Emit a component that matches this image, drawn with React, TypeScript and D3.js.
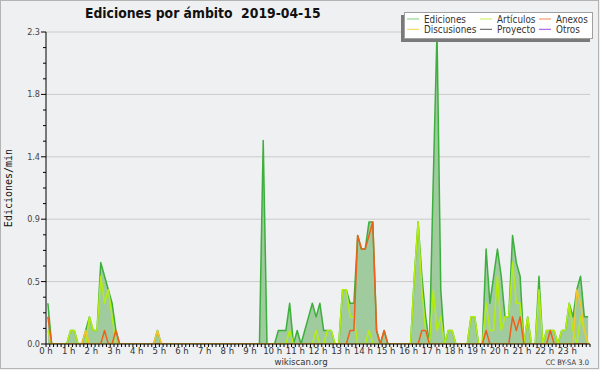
import React from 'react';
import * as d3 from 'd3';

// values are edits per minute, one per 10 minute slot (0:00 .. 23:50)
const ediciones = [
  0.3, 0, 0, 0, 0, 0, // 0 h
  0.1, 0.1, 0, 0, 0.1, 0.2, // 1 h
  0.1, 0.1, 0.6, 0.5, 0.4, 0.3, // 2 h
  0.1, 0, 0, 0, 0, 0, // 3 h
  0, 0, 0, 0, 0, 0.1, // 4 h
  0, 0, 0, 0, 0, 0, // 5 h
  0, 0, 0, 0, 0, 0, // 6 h
  0, 0, 0, 0, 0, 0, // 7 h
  0, 0, 0, 0, 0, 0, // 8 h
  0, 0, 0, 1.5, 0, 0, // 9 h
  0, 0.1, 0.1, 0.1, 0.3, 0, // 10 h
  0.1, 0, 0.1, 0.2, 0.3, 0.2, // 11 h
  0.3, 0.1, 0.1, 0.1, 0, 0, // 12 h
  0.4, 0.4, 0.3, 0.3, 0.8, 0.7, // 13 h
  0.7, 0.9, 0.9, 0.1, 0, 0.1, // 14 h
  0, 0, 0, 0, 0, 0, // 15 h
  0, 0.5, 0.9, 0.5, 0.2, 0, // 16 h
  1.2, 2.3, 0.4, 0, 0.1, 0.1, // 17 h
  0, 0, 0, 0, 0.2, 0.2, // 18 h
  0, 0, 0.7, 0.3, 0.5, 0.7, // 19 h
  0.5, 0.2, 0.2, 0.8, 0.6, 0.5, // 20 h
  0, 0.2, 0, 0, 0.5, 0, // 21 h
  0.1, 0.1, 0.1, 0, 0.1, 0.1, // 22 h
  0.3, 0.2, 0.4, 0.5, 0.2, 0.2, // 23 h
];

const articulos = [
  0.1, 0, 0, 0, 0, 0,
  0.1, 0.1, 0, 0, 0, 0.2,
  0.1, 0.1, 0.5, 0.3, 0.4, 0.2,
  0, 0, 0, 0, 0, 0,
  0, 0, 0, 0, 0, 0,
  0, 0, 0, 0, 0, 0,
  0, 0, 0, 0, 0, 0,
  0, 0, 0, 0, 0, 0,
  0, 0, 0, 0, 0, 0,
  0, 0, 0, 0, 0, 0,
  0, 0, 0, 0, 0.1, 0,
  0, 0, 0, 0, 0, 0.1,
  0, 0, 0.1, 0.1, 0, 0,
  0.4, 0.4, 0.2, 0.2, 0, 0,
  0, 0.1, 0, 0, 0, 0,
  0, 0, 0, 0, 0, 0,
  0, 0.5, 0.9, 0.4, 0.1, 0,
  0.4, 0.1, 0.2, 0, 0.1, 0.1,
  0, 0, 0, 0, 0.2, 0.2,
  0, 0, 0.3, 0.1, 0.1, 0.5,
  0.1, 0.2, 0.2, 0.6, 0.3, 0.3,
  0, 0.2, 0, 0, 0.4, 0,
  0.1, 0.1, 0.1, 0, 0.1, 0.1,
  0.3, 0.1, 0, 0.2, 0.1, 0,
];

const anexos = [
  0.2, 0, 0, 0, 0, 0,
  0, 0, 0, 0, 0, 0,
  0, 0, 0, 0.1, 0, 0,
  0.1, 0, 0, 0, 0, 0,
  0, 0, 0, 0, 0, 0,
  0, 0, 0, 0, 0, 0,
  0, 0, 0, 0, 0, 0,
  0, 0, 0, 0, 0, 0,
  0, 0, 0, 0, 0, 0,
  0, 0, 0, 0, 0, 0,
  0, 0, 0, 0, 0, 0,
  0, 0, 0, 0, 0, 0,
  0, 0, 0, 0, 0, 0,
  0, 0, 0.1, 0.1, 0.8, 0.7,
  0.7, 0.8, 0.9, 0.1, 0, 0.1,
  0, 0, 0, 0, 0, 0,
  0, 0, 0, 0.1, 0.1, 0,
  0, 0, 0, 0, 0, 0,
  0, 0, 0, 0, 0, 0,
  0, 0, 0.1, 0, 0, 0,
  0, 0, 0, 0.2, 0.1, 0.2,
  0, 0, 0, 0, 0, 0,
  0, 0.1, 0, 0, 0, 0,
  0, 0, 0, 0, 0, 0,
];

const discusiones = [
  0, 0, 0, 0, 0, 0,
  0, 0, 0, 0, 0.1, 0,
  0, 0, 0, 0, 0, 0,
  0, 0, 0, 0, 0, 0,
  0, 0, 0, 0, 0, 0.1,
  0, 0, 0, 0, 0, 0,
  0, 0, 0, 0, 0, 0,
  0, 0, 0, 0, 0, 0,
  0, 0, 0, 0, 0, 0,
  0, 0, 0, 0, 0, 0,
  0, 0, 0, 0, 0, 0,
  0, 0, 0, 0, 0, 0,
  0, 0, 0, 0, 0, 0,
  0, 0, 0, 0, 0, 0,
  0, 0, 0, 0, 0, 0,
  0, 0, 0, 0, 0, 0,
  0, 0, 0, 0, 0, 0,
  0, 0, 0, 0, 0, 0,
  0, 0, 0, 0, 0, 0,
  0, 0, 0, 0, 0, 0,
  0, 0, 0, 0, 0, 0,
  0, 0, 0, 0, 0, 0,
  0, 0, 0, 0, 0, 0,
  0, 0, 0.4, 0.3, 0.1, 0,
];

const hourLabels = d3.range(24).map((h) => `${h} h`);
const yMajorTicks = [0, 0.46, 0.92, 1.38, 1.84, 2.3];
const yMax = 2.3;

const legendItems = [
  { name: 'Ediciones', color: '#7ccf7c' },
  { name: 'Artículos', color: '#c4ef50' },
  { name: 'Anexos', color: '#f08650' },
  { name: 'Discusiones', color: '#f7d24a' },
  { name: 'Proyecto', color: '#555555' },
  { name: 'Otros', color: '#9a4be8' },
];

const W = 600;
const H = 370;
const left = 46;
const right = 590;
const top = 32;
const bottom = 344;
const cond = "'DejaVu Sans Condensed', 'DejaVu Sans', sans-serif";

export default function App() {
  const x = d3.scaleLinear().domain([0, 1440]).range([left, right]);
  const y = d3.scaleLinear().domain([0, yMax]).range([bottom, top]);
  const px = (_: number, i: number) => x(i * 10 + 5);

  const area = d3.area<number>().x(px).y0(bottom).y1((d) => y(d));
  const line = d3.line<number>().x(px).y((d) => y(d));

  const lines = [
    { values: ediciones, color: '#3daf3d' },
    { values: articulos, color: '#b4ee10' },
    { values: anexos, color: '#f0601a' },
    { values: discusiones, color: '#f2c62c' },
  ];

  const minorY = d3.range(0, 21).map((k) => (k * yMax) / 20);
  const minorX = d3.range(0, 1441, 10);

  return (
    <svg width={W} height={H} style={{ position: 'absolute', left: 0, top: 0, display: 'block' }}>
      <defs>
        <clipPath id="plot">
          <rect x={left} y={top - 2} width={right - left} height={bottom - top + 2} />
        </clipPath>
      </defs>
      <rect x={0} y={0} width={W} height={H} fill="#eff0f1" />
      <rect x={0.5} y={0.5} width={W - 2} height={H - 2} fill="none" stroke="#b4b4b4" />

      <text x={85} y={18} fontFamily={cond} fontWeight="bold" fontSize={13.8} fill="#111">
        {'Ediciones por ámbito\u00a0\u00a02019-04-15'}
      </text>

      {/* grid */}
      {yMajorTicks.slice(1).map((t) => (
        <line key={t} x1={left} x2={right} y1={y(t)} y2={y(t)} stroke="#cacaca" />
      ))}

      <g clipPath="url(#plot)">
        <path d={area(ediciones) || ''} fill="#9fcb9f" />
        {lines.map((s, k) => (
          <path key={k} d={line(s.values) || ''} fill="none" stroke={s.color} strokeWidth={1.5} strokeLinejoin="round" />
        ))}
      </g>

      {/* y axis */}
      <line x1={left} x2={left} y1={top} y2={bottom} stroke="#000" />
      {minorY.map((t, k) => (
        <line key={k} x1={k % 4 === 0 ? left - 5 : left - 3} x2={left} y1={y(t)} y2={y(t)} stroke="#000" />
      ))}
      {yMajorTicks.map((t) => (
        <text key={t} x={left - 6} y={y(t) + 3} textAnchor="end" fontFamily={cond} fontSize={9} fill="#444">
          {d3.format('.1f')(t)}
        </text>
      ))}
      <text
        transform={`translate(12,${(top + bottom) / 2}) rotate(-90)`}
        textAnchor="middle"
        fontFamily="'DejaVu Sans Mono', monospace"
        fontSize={10}
        fill="#111"
      >
        Ediciones/min
      </text>

      {/* x axis */}
      <line x1={left} x2={right} y1={bottom} y2={bottom} stroke="#000" />
      {minorX.map((t) => (
        <line key={t} x1={x(t)} x2={x(t)} y1={bottom} y2={bottom + 3} stroke="#000" />
      ))}
      {hourLabels.map((lab, h) => (
        <text key={lab} x={x(h * 60)} y={354} textAnchor="middle" fontFamily={cond} fontSize={9.5} fill="#333">
          {lab}
        </text>
      ))}

      <text x={301} y={365} textAnchor="middle" fontFamily={cond} fontSize={9.5} fill="#333">
        wikiscan.org
      </text>
      <text x={589} y={365} textAnchor="end" fontFamily={cond} fontSize={7.5} fill="#333">
        CC BY-SA 3.0
      </text>

      {/* legend */}
      <rect x={401} y={15} width={189} height={27} fill="#7a7a7a" />
      <rect x={404.5} y={12.5} width={188} height={26} fill="#ffffff" stroke="#a0a0a0" />
      {legendItems.map((it, k) => {
        const col = k % 3;
        const row = Math.floor(k / 3);
        const lx = [407, 480, 539][col];
        const ly = 19 + row * 10.3;
        return (
          <g key={it.name}>
            <line x1={lx} x2={lx + 12} y1={ly} y2={ly} stroke={it.color} />
            <text x={lx + 17} y={ly + 3.6} fontFamily={cond} fontSize={9.8} fill="#333">
              {it.name}
            </text>
          </g>
        );
      })}
    </svg>
  );
}
